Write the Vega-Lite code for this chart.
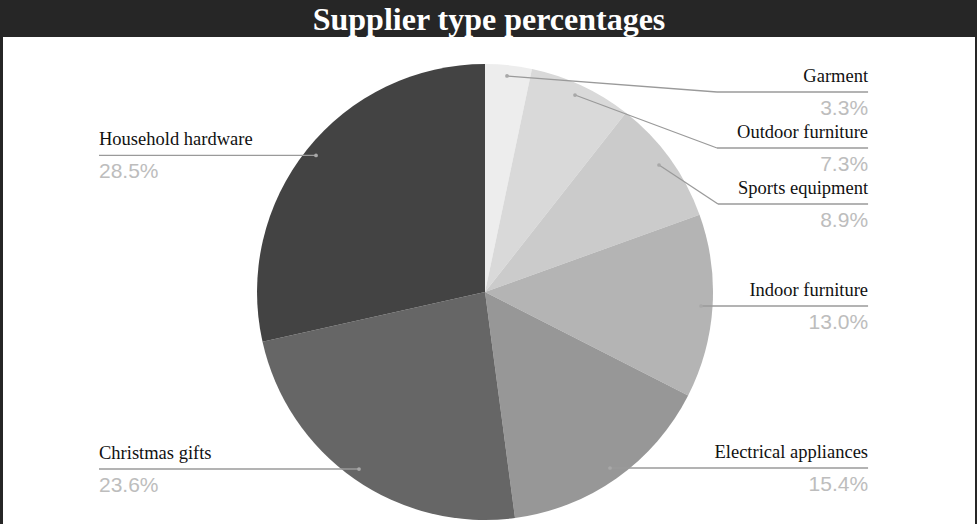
{
  "$schema": "https://vega.github.io/schema/vega-lite/v6.json",
  "width": 972,
  "height": 487,
  "autosize": {"type": "none"},
  "padding": {"top": 37, "left": 3, "right": 2, "bottom": 0},
  "background": "#262626",
  "view": {"fill": "white", "stroke": null},
  "title": {
    "text": "Supplier type percentages",
    "color": "white",
    "font": "Liberation Serif",
    "fontSize": 32,
    "fontWeight": "bold",
    "anchor": "middle",
    "frame": "group",
    "offset": 0
  },
  "data": {
    "values": [
      {"idx": 1, "name": "Garment", "share": 0.033, "side": "R", "dotX": 9.65, "dotY": -94.74, "elbowX": 101.75, "elbowY": -87.72, "endX": 168.0},
      {"idx": 2, "name": "Outdoor furniture", "share": 0.073, "side": "R", "dotX": 39.47, "dotY": -86.4, "elbowX": 101.75, "elbowY": -63.16, "endX": 168.0},
      {"idx": 3, "name": "Sports equipment", "share": 0.089, "side": "R", "dotX": 76.32, "dotY": -55.7, "elbowX": 102.19, "elbowY": -38.6, "endX": 168.0},
      {"idx": 4, "name": "Indoor furniture", "share": 0.13, "side": "R", "dotX": 94.74, "dotY": 6.14, "elbowX": 94.74, "elbowY": 6.14, "endX": 168.0},
      {"idx": 5, "name": "Electrical appliances", "share": 0.154, "side": "R", "dotX": 54.82, "dotY": 77.19, "elbowX": 54.82, "elbowY": 77.19, "endX": 168.0},
      {"idx": 6, "name": "Christmas gifts", "share": 0.236, "side": "L", "dotX": -55.26, "dotY": 77.63, "elbowX": -55.26, "elbowY": 77.63, "endX": -169.3},
      {"idx": 7, "name": "Household hardware", "share": 0.285, "side": "L", "dotX": -74.12, "dotY": -59.9, "elbowX": -74.12, "elbowY": -59.9, "endX": -169.3}
    ]
  },
  "layer": [
    {
      "mark": {"type": "arc", "outerRadius": 228, "stroke": null},
      "encoding": {
        "theta": {"field": "share", "type": "quantitative", "stack": true},
        "order": {"field": "idx", "type": "quantitative"},
        "color": {
          "field": "name",
          "type": "nominal",
          "scale": {
            "domain": ["Garment", "Outdoor furniture", "Sports equipment", "Indoor furniture", "Electrical appliances", "Christmas gifts", "Household hardware"],
            "range": ["#ededed", "#d9d9d9", "#cbcbcb", "#b4b4b4", "#979797", "#666666", "#434343"]
          },
          "legend": null
        },
        "x": {"datum": 0, "type": "quantitative", "scale": {"domain": [-211.4, 214.9], "nice": false, "zero": false}, "axis": null},
        "y": {"datum": 0, "type": "quantitative", "scale": {"domain": [-111.84, 101.75], "nice": false, "zero": false, "reverse": true}, "axis": null}
      }
    },
    {
      "mark": {"type": "rule", "color": "#9a9a9a", "strokeWidth": 1.3},
      "encoding": {
        "x": {"field": "dotX", "type": "quantitative", "axis": null},
        "y": {"field": "dotY", "type": "quantitative", "axis": null},
        "x2": {"field": "elbowX"},
        "y2": {"field": "elbowY"}
      }
    },
    {
      "mark": {"type": "rule", "color": "#9a9a9a", "strokeWidth": 1.3},
      "encoding": {
        "x": {"field": "elbowX", "type": "quantitative", "axis": null},
        "y": {"field": "elbowY", "type": "quantitative", "axis": null},
        "x2": {"field": "endX"}
      }
    },
    {
      "mark": {"type": "point", "filled": true, "size": 14, "color": "#a8a8a8", "opacity": 1},
      "encoding": {
        "x": {"field": "dotX", "type": "quantitative", "axis": null},
        "y": {"field": "dotY", "type": "quantitative", "axis": null}
      }
    },
    {
      "transform": [{"filter": "datum.side === 'R'"}],
      "mark": {"type": "text", "align": "right", "baseline": "alphabetic", "dy": -10, "font": "Liberation Serif", "fontSize": 18.5, "color": "#111111"},
      "encoding": {
        "x": {"field": "endX", "type": "quantitative", "axis": null},
        "y": {"field": "elbowY", "type": "quantitative", "axis": null},
        "text": {"field": "name"}
      }
    },
    {
      "transform": [{"filter": "datum.side === 'R'"}],
      "mark": {"type": "text", "align": "right", "baseline": "alphabetic", "dy": 23, "font": "Liberation Sans", "fontSize": 21, "color": "#bdbdbd"},
      "encoding": {
        "x": {"field": "endX", "type": "quantitative", "axis": null},
        "y": {"field": "elbowY", "type": "quantitative", "axis": null},
        "text": {"field": "share", "format": ".1%"}
      }
    },
    {
      "transform": [{"filter": "datum.side === 'L'"}],
      "mark": {"type": "text", "align": "left", "baseline": "alphabetic", "dy": -10, "font": "Liberation Serif", "fontSize": 18.5, "color": "#111111"},
      "encoding": {
        "x": {"field": "endX", "type": "quantitative", "axis": null},
        "y": {"field": "elbowY", "type": "quantitative", "axis": null},
        "text": {"field": "name"}
      }
    },
    {
      "transform": [{"filter": "datum.side === 'L'"}],
      "mark": {"type": "text", "align": "left", "baseline": "alphabetic", "dy": 23, "font": "Liberation Sans", "fontSize": 21, "color": "#bdbdbd"},
      "encoding": {
        "x": {"field": "endX", "type": "quantitative", "axis": null},
        "y": {"field": "elbowY", "type": "quantitative", "axis": null},
        "text": {"field": "share", "format": ".1%"}
      }
    }
  ]
}
